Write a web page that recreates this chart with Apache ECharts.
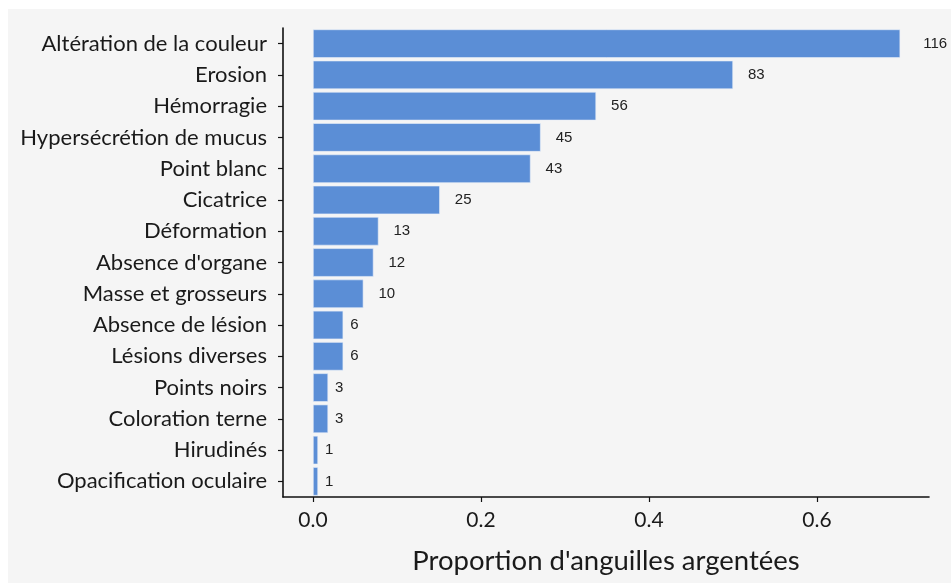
<!DOCTYPE html>
<html>
<head>
<meta charset="utf-8">
<script src="https://cdn.jsdelivr.net/npm/echarts@6/dist/echarts.min.js"></script>
<style>
  html, body { margin: 0; padding: 0; background: #ffffff; }
  #chart { position: absolute; left: 8px; top: 9px; width: 943px; height: 574px; }
</style>
</head>
<body>
<div id="chart"></div>
<script>
const categories = [
  'Altération de la couleur', 'Erosion', 'Hémorragie', 'Hypersécrétion de mucus',
  'Point blanc', 'Cicatrice', 'Déformation', "Absence d'organe", 'Masse et grosseurs',
  'Absence de lésion', 'Lésions diverses', 'Points noirs', 'Coloration terne',
  'Hirudinés', 'Opacification oculaire'
]
const proportions = [0.699, 0.500, 0.337, 0.271, 0.259, 0.151, 0.078, 0.072, 0.060,
  0.036, 0.036, 0.018, 0.018, 0.006, 0.006]
const counts = [116, 83, 56, 45, 43, 25, 13, 12, 10, 6, 6, 3, 3, 1, 1]
const tickValues = [0, 0.2, 0.4, 0.6]

const textColor = '#1a1a1a'
const chart = echarts.init(document.getElementById('chart'))

// count labels sit further out the more digits they have
const barData = proportions.map((v, i) => ({
  value: v,
  label: { distance: 8 * String(counts[i]).length - 1 }
}))

chart.setOption({
  backgroundColor: '#f5f5f5',
  animation: false,
  grid: { left: 275, right: 22, top: 19, bottom: 86 },
  xAxis: {
    type: 'value',
    min: -0.0357,
    max: 0.7333,
    name: "Proportion d'anguilles argentées",
    nameLocation: 'middle',
    nameGap: 50,
    nameTextStyle: { fontFamily: 'Lato', fontSize: 27.5, color: textColor },
    splitLine: { show: false },
    axisLine: { show: true, onZero: false, lineStyle: { color: '#111', width: 1.6 } },
    axisTick: { show: true, length: 5, customValues: tickValues, lineStyle: { color: '#111', width: 1.2 } },
    axisLabel: {
      customValues: tickValues,
      formatter: v => v.toFixed(1),
      margin: 13,
      fontFamily: 'Lato', fontSize: 21, color: textColor
    }
  },
  yAxis: {
    type: 'category',
    data: categories,
    inverse: true,
    axisLine: { show: true, onZero: false, lineStyle: { color: '#111', width: 1.6 } },
    axisTick: { show: true, inside: false, length: 5, alignWithLabel: true, lineStyle: { color: '#111', width: 1.2 } },
    axisLabel: { margin: 16, fontFamily: 'Lato', fontSize: 22, color: textColor }
  },
  series: [{
    type: 'bar',
    data: barData,
    barCategoryGap: '9%',
    itemStyle: { color: '#5b8ed6', borderColor: '#e8eef8', borderWidth: 0.6 },
    label: {
      show: true,
      position: 'right',
      formatter: p => counts[p.dataIndex],
      fontFamily: 'Liberation Sans', fontSize: 15, color: '#222'
    }
  }]
})
</script>
</body>
</html>
